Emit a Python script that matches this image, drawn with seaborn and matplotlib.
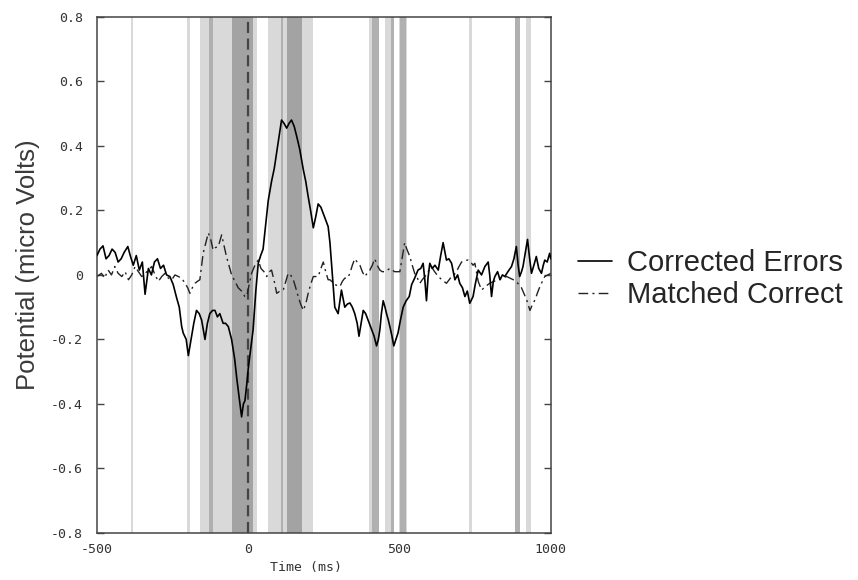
import numpy as np
import pandas as pd

import matplotlib as mpl
import matplotlib.pyplot as plt

import seaborn as sns

# ---------------------------------------------- data ---------------------------------------------- #

err_time = [-500, -490, -480, -470, -460, -450, -440, -430, -420, -410, -398, -390, -380, -370, -360, -350,
            -341, -330, -320, -310, -300, -290, -280, -270, -259, -248, -237, -228, -220, -215, -205, -198,
            -187, -180, -171, -162, -154, -143, -135, -127, -118, -110, -102, -94, -83, -75, -66, -55, -45,
            -38, -30, -22, -16, -11, -5, 0, 8, 16, 25, 33, 41, 49, 58, 66, 77, 86, 94, 102, 110, 118, 127,
            135, 143, 152, 160, 170, 182, 190, 198, 206, 215, 223, 231, 240, 248, 256, 264, 270, 278, 286,
            297, 308, 319, 328, 336, 344, 352, 360, 366, 373, 380, 388, 396, 408, 416, 424, 430, 435, 440,
            446, 452, 457, 463, 468, 475, 481, 488, 495, 503, 512, 522, 532, 540, 550, 561, 570, 578, 584,
            589, 594, 600, 608, 617, 628, 636, 644, 650, 655, 663, 672, 683, 692, 699, 708, 716, 724, 732,
            743, 750, 760, 771, 782, 793, 798, 804, 810, 815, 824, 832, 840, 848, 858, 870, 878, 886, 892,
            897, 903, 908, 916, 923, 930, 936, 944, 952, 960, 969, 975, 980, 988, 996, 1000]
err_uv = [0.06, 0.08, 0.09, 0.05, 0.06, 0.08, 0.07, 0.04, 0.05, 0.07, 0.088, 0.06, 0.03, 0.06, 0.015, 0.04,
          -0.06, 0.02, 0.0, 0.04, 0.05, 0.02, 0.03, 0.0, -0.005, -0.03, -0.07, -0.10, -0.16, -0.18, -0.20, -0.25,
          -0.19, -0.15, -0.11, -0.12, -0.14, -0.20, -0.15, -0.12, -0.11, -0.11, -0.13, -0.12, -0.15, -0.15, -0.16, -0.20, -0.26,
          -0.32, -0.38, -0.44, -0.40, -0.39, -0.34, -0.29, -0.23, -0.17, -0.05, 0.036, 0.06, 0.08, 0.16, 0.23, 0.29, 0.33, 0.38, 0.43, 0.48, 0.47, 0.455,
          0.47, 0.48, 0.46, 0.43, 0.39, 0.326, 0.29, 0.243, 0.20, 0.146, 0.18, 0.22, 0.21, 0.19, 0.17, 0.15, 0.10, 0.0, -0.10,
          -0.12, -0.047, -0.10, -0.09, -0.087, -0.10, -0.12, -0.15, -0.19, -0.15, -0.11, -0.12, -0.14, -0.17, -0.19, -0.22, -0.20, -0.17, -0.12,
          -0.08, -0.10, -0.12, -0.14, -0.16, -0.19, -0.22, -0.20, -0.18, -0.14, -0.10, -0.08, -0.067, -0.03, -0.01, 0.015, 0.02, 0.036, -0.02,
          -0.08, -0.01, 0.036, 0.02, 0.03, 0.015, 0.06, 0.10, 0.07, 0.046, 0.05, 0.036, -0.015, 0.0, -0.026, -0.04, -0.067, -0.05, -0.088,
          -0.067, -0.03, 0.015, 0.0, 0.026, 0.04, 0.0, -0.067, -0.02, -0.005, 0.01, -0.015, 0.0, -0.005, 0.01, 0.026, 0.05, 0.088, 0.03,
          -0.005, 0.01, 0.026, 0.07, 0.11, 0.05, 0.005, 0.03, 0.057, 0.02, 0.005, 0.03, 0.046, 0.04, 0.067, 0.05]

corr_time = [-500, -485, -475, -463, -452, -441, -430, -418, -407, -396, -385, -374, -363, -352, -335, -319,
             -308, -297, -286, -275, -264, -253, -242, -231, -220, -209, -200, -193, -185, -176, -168, -160,
             -149, -140, -132, -124, -116, -108, -99, -88, -80, -72, -64, -55, -44, -33, -22, -11, -5, 3, 11,
             22, 33, 42, 52, 61, 70, 77, 86, 94, 105, 116, 124, 132, 140, 149, 157, 165, 173, 182, 190, 198,
             206, 215, 223, 231, 240, 248, 256, 264, 270, 286, 303, 311, 319, 328, 336, 344, 352, 360, 369,
             377, 385, 393, 402, 410, 418, 426, 435, 443, 451, 460, 468, 476, 484, 492, 501, 508, 517, 524,
             534, 542, 550, 559, 567, 575, 584, 594, 605, 616, 628, 640, 655, 664, 672, 680, 688, 696, 705,
             716, 727, 735, 743, 749, 760, 771, 785, 798, 812, 826, 840, 854, 865, 876, 890, 903, 912, 920,
             926, 931, 940, 948, 956, 964, 972, 980, 990, 1000]
corr_uv = [-0.005, 0.005, -0.01, 0.015, 0.0, 0.026, 0.005, -0.005, 0.01, -0.015, 0.0, 0.026, 0.01, -0.005, 0.01, 0.026,
           0.0, -0.02, -0.005, 0.005, -0.01, -0.015, 0.0, -0.005, -0.01, -0.026, -0.04, -0.057, -0.04, -0.026, -0.02, -0.015,
           0.067, 0.10, 0.13, 0.11, 0.077, 0.085, 0.088, 0.124, 0.09, 0.057, 0.03, 0.0, -0.02, -0.04, -0.05, -0.067, -0.067, -0.03, 0.005,
           0.03, 0.046, 0.02, 0.01, -0.005, 0.01, 0.015, -0.02, -0.057, -0.05, -0.046, -0.02, 0.005, 0.0, -0.015, -0.04, -0.067, -0.09, -0.11, -0.09, -0.057,
           -0.03, -0.005, -0.005, -0.005, 0.02, 0.04, 0.01, -0.015, -0.015, -0.03, -0.036, -0.02, -0.01, -0.01, 0.005, 0.03, 0.05, 0.04, 0.03,
           0.01, -0.005, 0.005, 0.015, 0.03, 0.05, 0.03, 0.015, 0.01, 0.01, 0.015, 0.02, 0.015, 0.01, 0.01, 0.01, 0.05, 0.10, 0.08,
           0.057, 0.03, 0.005, -0.01, -0.026, -0.015, -0.005, 0.01, 0.026, 0.01, -0.005, -0.015, -0.026, -0.015, -0.005, 0.0, 0.01, 0.025, 0.04,
           0.045, 0.046, 0.04, 0.03, 0.036, -0.02, -0.047, -0.035, -0.026, -0.02, -0.015, -0.01, -0.005, -0.01, -0.015, -0.025, -0.04, -0.06, -0.077,
           -0.095, -0.11, -0.09, -0.077, -0.055, -0.036, -0.02, -0.005, 0.0, 0.005]

# significance bands (ms) and their shade level
band_start = [-389, -203, -160, 66, 400, 451, 498, 730, 917, -130, 107, 410, 471, 503, 881, -53, 127]
band_end = [-380, -193, 28, 213, 433, 471, 526, 740, 933, -116, 115, 431, 481, 522, 897, 16, 177]
band_level = ['light', 'light', 'light', 'light', 'light', 'light', 'light', 'light', 'light',
              'mid', 'mid', 'mid', 'mid', 'mid', 'mid', 'dark', 'dark']
shade = {'light': '#d9d9d9', 'mid': '#b0b0b0', 'dark': '#a3a3a3'}

yticks = [-0.8, -0.6, -0.4, -0.2, 0, 0.2, 0.4, 0.6, 0.8]
ytick_labels = ['-0.8', '-0.6', '-0.4', '-0.2', '0', '0.2', '0.4', '0.6', '0.8']
xticks = [-500, 0, 500, 1000]

# ---------------------------------------------- plot ---------------------------------------------- #

sns.set_style('white')
plt.rcParams['font.family'] = ['Liberation Sans', 'DejaVu Sans']

fig = plt.figure(figsize=(8.58, 5.8), dpi=100)
ax = fig.add_axes([0.113, 0.081, 0.529, 0.890])

for s, e, lv in zip(band_start, band_end, band_level):
    ax.axvspan(s, e, color=shade[lv], lw=0, zorder=0)

ax.axvline(0, color='#444444', lw=1.6, dashes=(5, 2.5), zorder=1)

sns.lineplot(x=err_time, y=err_uv, ax=ax, color='black', lw=1.2, estimator=None, sort=False,
             label='Corrected Errors', zorder=3)
sns.lineplot(x=corr_time, y=corr_uv, ax=ax, color='#222222', lw=1.0, estimator=None, sort=False,
             label='Matched Correct', zorder=2, linestyle=(0, (7, 3, 1.5, 3)))

ax.set_xlim(-500, 1000)
ax.set_ylim(-0.8, 0.8)
ax.set_xticks(xticks)
ax.set_xticklabels([str(t) for t in xticks], family='DejaVu Sans Mono', fontsize=9.5, color='#333333')
ax.set_yticks(yticks)
ax.set_yticklabels(ytick_labels, family='DejaVu Sans Mono', fontsize=9.5, color='#333333')
ax.tick_params(axis='y', direction='in', length=5, width=1, color='#444444', right=True, left=True, pad=10)
ax.tick_params(axis='x', length=0, pad=7)

for sp in ax.spines.values():
    sp.set_color('#444444')
    sp.set_linewidth(1.1)

ax.set_xlabel('Time (ms)', family='DejaVu Sans Mono', fontsize=9.5, color='#333333')
ax.xaxis.set_label_coords(0.46, -0.055)
ax.set_ylabel('Potential (micro Volts)', fontsize=18.5, color='#3a3a3a')
ax.yaxis.set_label_coords(-0.125, 0.52)

ax.legend(loc='center left', bbox_to_anchor=(1.06, 0.492), frameon=False, fontsize=21,
          borderpad=0, borderaxespad=0, handlelength=1.17, handletextpad=0.52, labelspacing=0.15)

plt.savefig('out.png', dpi=100)
